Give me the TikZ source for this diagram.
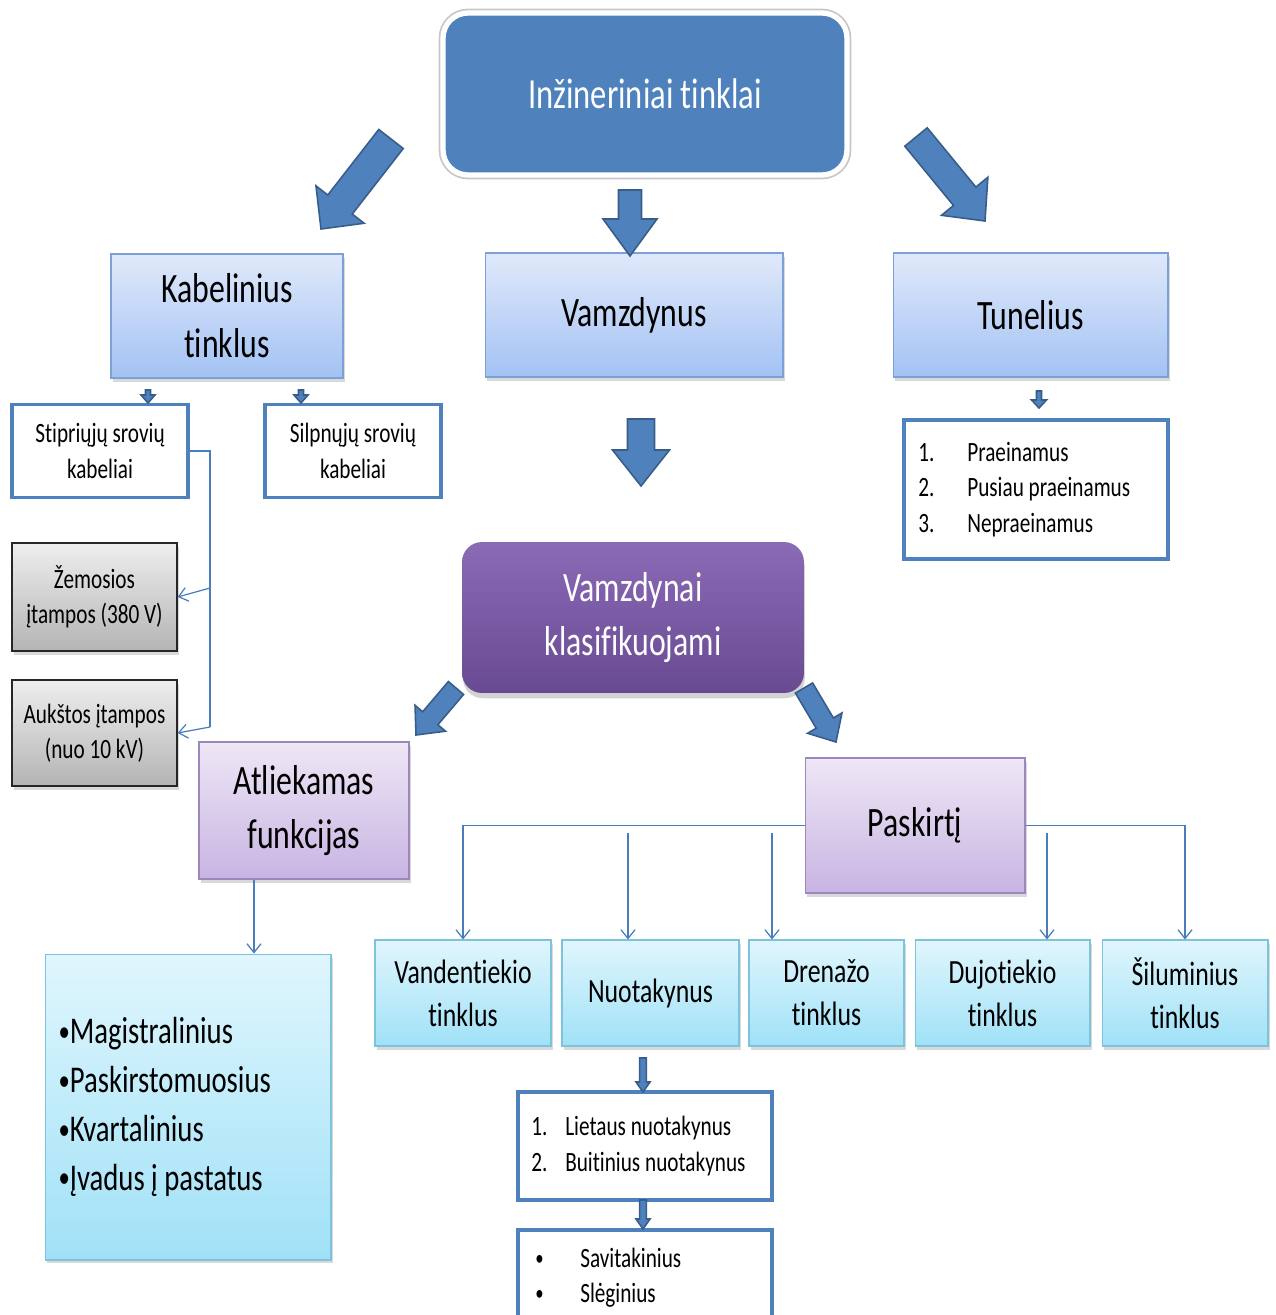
\documentclass[tikz,border=0pt]{standalone}
\usepackage{fontspec}
\setmainfont{Carlito}[FakeStretch=0.76, Ligatures=NoCommon]
\usetikzlibrary{calc,shadows,arrows.meta}
\definecolor{titlefill}{RGB}{79,129,189}
\definecolor{arrowfill}{RGB}{79,129,189}
\definecolor{arrowline}{RGB}{56,93,138}
\definecolor{kabtop}{RGB}{224,233,250}
\definecolor{kabbot}{RGB}{163,194,244}
\definecolor{kabline}{RGB}{125,160,215}
\definecolor{lavtop}{RGB}{238,231,246}
\definecolor{lavbot}{RGB}{200,180,226}
\definecolor{lavline}{RGB}{155,135,190}
\definecolor{cyantop}{RGB}{224,246,253}
\definecolor{cyanbot}{RGB}{160,225,247}
\definecolor{cyanline}{RGB}{125,195,220}
\definecolor{graytop}{RGB}{238,238,238}
\definecolor{graybot}{RGB}{180,180,180}
\definecolor{purptop}{RGB}{139,106,182}
\definecolor{purpbot}{RGB}{104,74,146}
\definecolor{listline}{RGB}{79,129,189}
\definecolor{linkblue}{RGB}{74,126,187}
\newcommand\fTitle{\fontsize{24.4}{30}\selectfont}
\newcommand\fMid{\fontsize{23.8}{31.2}\selectfont}
\newcommand\fRow{\fontsize{19.3}{24.4}\selectfont}
\newcommand\fSmall{\fontsize{15.9}{20.1}\selectfont}
\newcommand\fMag{\fontsize{21.5}{27.8}\selectfont}
\newcommand\magbul{{\fontsize{17}{17}\selectfont\raisebox{0.08em}{•}}}
\newcommand\smbul{{\fontsize{12.5}{12.5}\selectfont\raisebox{0.1em}{•}}}
% #1 tail, #2 tip, #3 shaft half width, #4 head half width, #5 head length
\newcommand\blockarrow[5]{%
  \coordinate (bT) at #1;
  \coordinate (bH) at #2;
  \coordinate (bB) at ($(bH)!#5!(bT)$);
  \draw[blockarr] ($(bT)!#3!90:(bH)$) -- ($(bB)!#3!-90:(bT)$) -- ($(bB)!#4!-90:(bT)$) -- (bH) -- ($(bB)!#4!90:(bT)$) -- ($(bB)!#3!90:(bT)$) -- ($(bT)!#3!-90:(bH)$) -- cycle;
}
\tikzset{
  every node/.style={inner sep=0pt},
  shadowed/.style={drop shadow={shadow xshift=1.2pt, shadow yshift=-2pt, opacity=0.3}},
  blockarr/.style={fill=arrowfill, draw=arrowline, line width=0.9pt, line join=miter},
  titlebox/.style={rounded corners=0.5cm, fill=titlefill, draw=white, line width=3pt,
    preaction={draw=black!22, line width=5pt}, text=white, font=\fTitle, align=center},
  bluebox/.style={draw=kabline, line width=0.6pt, top color=kabtop, bottom color=kabbot, shadowed, align=center, font=\fMid},
  lavbox/.style={draw=lavline, line width=0.6pt, top color=lavtop, bottom color=lavbot, shadowed, align=center, font=\fMid},
  cyanbox/.style={draw=cyanline, line width=0.6pt, top color=cyantop, bottom color=cyanbot, shadowed, align=center, font=\fRow},
  graybox/.style={draw=black!85, line width=0.8pt, top color=graytop, bottom color=graybot, shadowed, align=center, font=\fSmall},
  listbox/.style={draw=listline, line width=2pt, fill=white, align=center, font=\fSmall},
  purpbox/.style={rounded corners=0.4cm, top color=purptop, bottom color=purpbot, draw=none,
    drop shadow={shadow xshift=0.5pt, shadow yshift=-3pt, opacity=0.35}, text=white, align=center, font=\fMid},
  conn/.style={draw=linkblue, line width=0.7pt},
  barb/.style={-{Straight Barb[length=5pt,width=8pt,line width=0.7pt]}},
}
\begin{document}
\begin{tikzpicture}[x=0.02cm,y=-0.02cm]
\useasboundingbox (0,0) rectangle (1275,1315);

% nodes
\node[titlebox, minimum width=8.08cm, minimum height=3.24cm] (top) at (645,94) {Inžineriniai tinklai};

\node[bluebox, minimum width=4.64cm, minimum height=2.48cm] (kab) at (227,316) {Kabelinius\\tinklus};
\node[bluebox, minimum width=5.96cm, minimum height=2.48cm] (vamz) at (634,315) {Vamzdynus};
\node[bluebox, minimum width=5.5cm, minimum height=2.48cm] (tun) at (1030.5,315) {Tunelius};

\node[listbox, minimum width=3.52cm, minimum height=1.86cm] (stip) at (100,451) {Stipriųjų srovių\\kabeliai};
\node[listbox, minimum width=3.52cm, minimum height=1.86cm] (silp) at (353,451) {Silpnųjų srovių\\kabeliai};

\node[graybox, minimum width=3.3cm, minimum height=2.16cm] (zem) at (94.5,597) {Žemosios\\įtampos (380 V)};
\node[graybox, minimum width=3.3cm, minimum height=2.12cm] (auk) at (94.5,733) {Aukštos įtampos\\(nuo 10 kV)};

\node[listbox, minimum width=5.28cm, minimum height=2.78cm] (tlist) at (1036,489.5)
  {\parbox{133.8pt}{\fSmall\raggedright
   \makebox[27.8pt][l]{1.}Praeinamus\\
   \makebox[27.8pt][l]{2.}Pusiau praeinamus\\
   \makebox[27.8pt][l]{3.}Nepraeinamus}};

\node[purpbox, minimum width=6.84cm, minimum height=3.02cm] (vk) at (633,617.5) {Vamzdynai\\klasifikuojami};

\node[lavbox, minimum width=4.2cm, minimum height=2.74cm] (atl) at (304,810.5) {Atliekamas\\funkcijas};
\node[lavbox, minimum width=4.4cm, minimum height=2.7cm] (pask) at (915,825.5) {Paskirtį};

\node[cyanbox, minimum width=3.52cm, minimum height=2.12cm] (vand) at (463,993) {Vandentiekio\\tinklus};
\node[cyanbox, minimum width=3.54cm, minimum height=2.12cm] (nuot) at (650.5,993) {Nuotakynus};
\node[cyanbox, minimum width=3.1cm, minimum height=2.12cm] (dren) at (826.5,993) {Drenažo\\tinklus};
\node[cyanbox, minimum width=3.5cm, minimum height=2.12cm] (duj) at (1002.5,993) {Dujotiekio\\tinklus};
\node[cyanbox, minimum width=3.32cm, minimum height=2.12cm] (silu) at (1185,993) {Šiluminius\\tinklus};

\node[cyanbox, minimum width=5.72cm, minimum height=6.12cm] (mag) at (188,1107)
  {\parbox{147.4pt}{\fMag\raggedright
   \magbul Magistralinius\\
   \magbul Paskirstomuosius\\
   \magbul Kvartalinius\\
   \magbul Įvadus į pastatus}};

\node[listbox, minimum width=5.08cm, minimum height=2.16cm] (liet) at (645,1146)
  {\parbox{129.3pt}{\fSmall\raggedright
   \makebox[19.3pt][l]{1.}Lietaus nuotakynus\\
   \makebox[19.3pt][l]{2.}Buitinius nuotakynus}};
\node[listbox, minimum width=5.08cm, minimum height=1.92cm] (sav) at (645,1278)
  {\parbox{124.7pt}{\fSmall\raggedright
   \makebox[25.5pt][l]{\smbul}Savitakinius\\
   \makebox[25.5pt][l]{\smbul}Slėginius}};

% block arrows
\blockarrow{(391,139)}{(321,229)}{0.31cm}{0.61cm}{0.62cm}
\blockarrow{(630,190)}{(630,256)}{0.23cm}{0.54cm}{0.74cm}
\blockarrow{(916,137)}{(985,221)}{0.29cm}{0.6cm}{0.64cm}
\blockarrow{(641,419)}{(641,486)}{0.27cm}{0.57cm}{0.72cm}
\blockarrow{(148,390)}{(148,403)}{0.05cm}{0.14cm}{0.16cm}
\blockarrow{(301,390)}{(301,403)}{0.05cm}{0.14cm}{0.16cm}
\blockarrow{(1039,391)}{(1039,408)}{0.05cm}{0.15cm}{0.16cm}
\blockarrow{(456,688)}{(416,735)}{0.2cm}{0.4cm}{0.44cm}
\blockarrow{(804,688)}{(836,742)}{0.2cm}{0.4cm}{0.44cm}
\blockarrow{(643,1058)}{(643,1092)}{0.066cm}{0.14cm}{0.2cm}
\blockarrow{(643,1200)}{(643,1229)}{0.066cm}{0.14cm}{0.2cm}

% thin connectors
\coordinate (e0) at (210,588);
\coordinate (e1) at (210,727);
\draw[conn] (stip.east) -| (e1);
\draw[conn,barb] (e0) -- (zem.east);
\draw[conn,barb] (e1) -- (auk.east);

\coordinate (c4) at (254,900);
\draw[conn,barb] (atl.south -| c4) -- (mag.north -| c4);

\draw[conn,barb] (pask.west) -| (vand.north);
\draw[conn,barb] (pask.east) -| (silu.north);
\coordinate (c1) at (628,833);
\coordinate (c2) at (772,833);
\coordinate (c3) at (1047,833);
\draw[conn,barb] (c1) -- (c1 |- nuot.north);
\draw[conn,barb] (c2) -- (c2 |- dren.north);
\draw[conn,barb] (c3) -- (c3 |- duj.north);
\end{tikzpicture}
\end{document}
